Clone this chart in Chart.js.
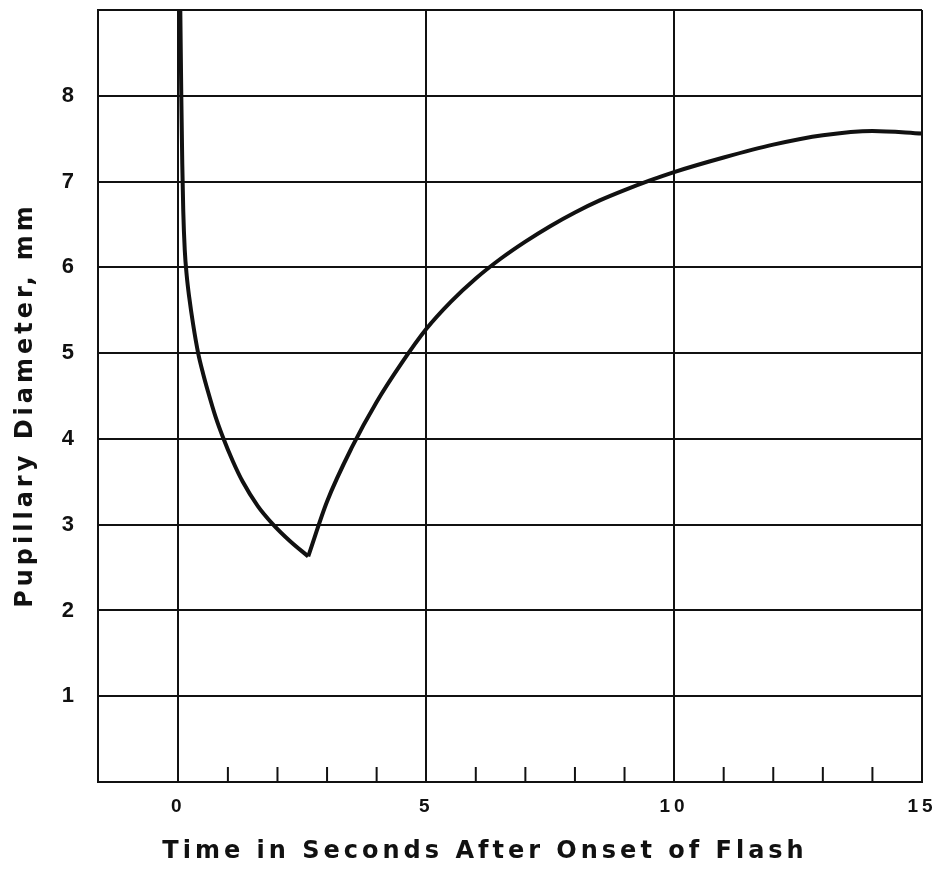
<!DOCTYPE html>
<html>
<head>
<meta charset="utf-8">
<script src="https://cdn.jsdelivr.net/npm/chart.js@4"></script>
<style>
  body { margin: 0; background: #fff; }
</style>
</head>
<body>
<canvas id="myChart" width="935" height="871"></canvas>
<script>
// pupil constriction after the flash, then slow re-dilation
var fallTimes = [0.04, 0.06, 0.08, 0.10, 0.13, 0.17, 0.22, 0.30, 0.40, 0.50, 0.60, 0.75, 0.90, 1.10, 1.30, 1.60, 1.90, 2.25, 2.62];
var fallDiameters = [9.0, 8.0, 7.2, 6.65, 6.2, 5.9, 5.65, 5.33, 5.0, 4.76, 4.55, 4.26, 4.02, 3.74, 3.5, 3.22, 3.01, 2.81, 2.63];
var riseTimes = [2.62, 3.0, 3.5, 4.0, 4.5, 5.0, 5.5, 6.0, 6.5, 7.0, 7.5, 8.0, 8.5, 9.0, 9.5, 10, 11, 12, 13, 14, 15];
var riseDiameters = [2.63, 3.27, 3.9, 4.43, 4.88, 5.28, 5.6, 5.87, 6.1, 6.3, 6.48, 6.64, 6.78, 6.9, 7.01, 7.11, 7.28, 7.43, 7.54, 7.59, 7.56];
var xLabels = [0, 5, 10, 15];
var yLabels = [1, 2, 3, 4, 5, 6, 7, 8];
var xTitle = "Time in Seconds After Onset of Flash";
var yTitle = "Pupillary Diameter, mm";

function points(xs, ys) {
  var out = [];
  for (var i = 0; i < xs.length; i++) {
    out.push({x: xs[i], y: ys[i]});
  }
  return out;
}

var ink = "#111";
var titleFont = "bold 24px 'DejaVu Sans'";

// inward minor ticks on the time axis + the two axis titles
var extras = {
  id: "extras",
  beforeDraw: function(chart) {
    chart.ctx.letterSpacing = "4px";
  },
  afterDatasetsDraw: function(chart) {
    var ctx = chart.ctx;
    var xScale = chart.scales.x;
    var bottom = chart.chartArea.bottom;
    ctx.save();
    ctx.strokeStyle = ink;
    ctx.lineWidth = 2;
    for (var t = 1; t < 15; t++) {
      if (t % 5 == 0) continue;
      var px = xScale.getPixelForValue(t);
      ctx.beginPath();
      ctx.moveTo(px, bottom);
      ctx.lineTo(px, bottom - 15);
      ctx.stroke();
    }
    ctx.restore();
  },
  afterDraw: function(chart) {
    var ctx = chart.ctx;
    ctx.save();
    ctx.letterSpacing = "4px";
    ctx.fillStyle = ink;
    ctx.font = titleFont;
    ctx.textAlign = "center";
    ctx.textBaseline = "middle";
    ctx.fillText(xTitle, 485, 852);
    ctx.translate(26, 407);
    ctx.rotate(-Math.PI / 2);
    ctx.fillText(yTitle, 2, 0);
    ctx.restore();
  }
};

new Chart("myChart", {
  type: "line",
  data: {
    datasets: [{
      data: points(fallTimes, fallDiameters),
      borderColor: ink,
      borderWidth: 4,
      pointRadius: 0,
      cubicInterpolationMode: "monotone"
    }, {
      data: points(riseTimes, riseDiameters),
      borderColor: ink,
      borderWidth: 4,
      pointRadius: 0,
      cubicInterpolationMode: "monotone"
    }]
  },
  options: {
    responsive: false,
    animation: false,
    layout: { padding: { left: 0, right: 13, top: 10, bottom: 0 } },
    plugins: {
      legend: { display: false },
      tooltip: { enabled: false }
    },
    scales: {
      x: {
        type: "linear",
        min: -1.62,
        max: 15,
        afterFit: function(scale) {
          scale.height = 89;
          scale.paddingLeft = 0;
          scale.paddingRight = 0;
        },
        border: { display: true, color: ink, width: 2 },
        grid: {
          drawTicks: false,
          color: function(c) {
            var v = c.tick ? c.tick.value : NaN;
            return xLabels.indexOf(v) >= 0 ? ink : "rgba(0,0,0,0)";
          },
          lineWidth: 2
        },
        ticks: {
          stepSize: 1,
          autoSkip: false,
          maxRotation: 0,
          padding: 13,
          color: ink,
          font: { family: "Liberation Sans", size: 19, weight: "bold" },
          callback: function(v) { return xLabels.indexOf(v) >= 0 ? String(v) : ""; }
        }
      },
      y: {
        min: 0,
        max: 9,
        afterFit: function(scale) {
          scale.width = 98;
          scale.paddingTop = 0;
          scale.paddingBottom = 0;
        },
        border: { display: true, color: ink, width: 2 },
        grid: { drawTicks: false, color: ink, lineWidth: 2 },
        ticks: {
          stepSize: 1,
          padding: 20,
          color: ink,
          font: { family: "Liberation Sans", size: 22, weight: "bold" },
          callback: function(v) { return yLabels.indexOf(v) >= 0 ? String(v) : ""; }
        }
      }
    }
  },
  plugins: [extras]
});
</script>
</body>
</html>
